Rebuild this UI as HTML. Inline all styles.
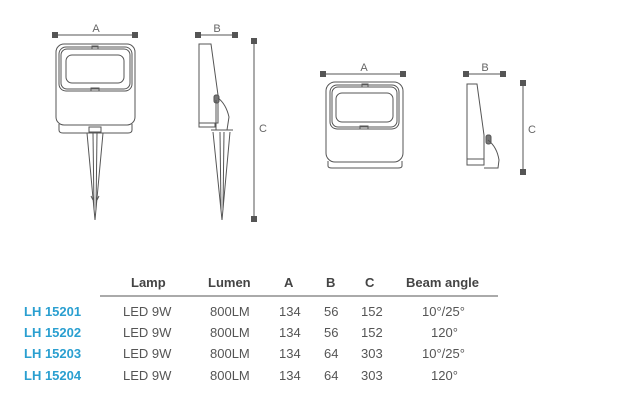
<!DOCTYPE html>
<html><head><meta charset="utf-8"><style>
html,body{margin:0;padding:0;background:#fff;}
body{width:624px;height:411px;overflow:hidden;position:relative;font-family:"Liberation Sans",sans-serif;}
svg{position:absolute;left:0;top:0;}
</style></head><body>
<svg width="624" height="411" viewBox="0 0 624 411" xmlns="http://www.w3.org/2000/svg">
<g stroke="#555" fill="none" stroke-width="1">
<!-- Front 1 dims -->
<line x1="56" y1="35" x2="134" y2="35"/>
<!-- Front 1 body -->
<rect x="56" y="44" width="79" height="81" rx="8"/>
<rect x="59" y="47" width="73" height="44" rx="7"/>
<rect x="61" y="49" width="69" height="40" rx="6"/>
<rect x="66" y="55" width="58" height="28" rx="6"/>
<rect x="92" y="46" width="6" height="3"/>
<rect x="91" y="88" width="8" height="3"/>
<path d="M59 124 L59 130 Q59 133 63 133 L128 133 Q132 133 132 130 L132 124"/>
<rect x="89" y="127" width="12" height="5"/>
<!-- spike 1 -->
<line x1="85" y1="133" x2="105" y2="133"/>
<path d="M87 133 L95 220 L103 133"/>
<line x1="93" y1="133" x2="94" y2="210"/>
<line x1="97" y1="133" x2="96" y2="210"/>
<line x1="91" y1="196" x2="93" y2="200"/><line x1="99" y1="196" x2="97" y2="200"/>
<!-- Side 1 -->
<line x1="198" y1="35" x2="235" y2="35"/>
<path d="M199 44 L211 44 L218 95 L218 123 L199 123 Z"/>
<path d="M199 123 L199 127 L215 127 L215 123"/>
<rect x="214" y="95" width="5" height="8" rx="2" fill="#777"/>
<path d="M218 98 Q226 104 229 117 L227 130 L216 130 L216 100"/>
<line x1="211" y1="130" x2="233" y2="130"/>
<path d="M213 132 L222 220 L230 132"/>
<line x1="220" y1="132" x2="221" y2="210"/>
<line x1="224" y1="132" x2="223" y2="210"/>
<line x1="254" y1="41" x2="254" y2="219"/>
<!-- Front 2 -->
<line x1="323" y1="74" x2="403" y2="74"/>
<rect x="326" y="82" width="77" height="80" rx="9"/>
<rect x="330" y="85" width="69" height="44" rx="7"/>
<rect x="332" y="87" width="65" height="40" rx="6"/>
<rect x="336" y="93" width="57" height="29" rx="6"/>
<rect x="362" y="84" width="6" height="3"/>
<rect x="360" y="126" width="8" height="3"/>
<path d="M328 161 L328 166 Q328 168 332 168 L398 168 Q402 168 402 166 L402 161"/>
<!-- Side 2 -->
<line x1="466" y1="74" x2="503" y2="74"/>
<path d="M467 84 L477 84 L484 135 L484 165 L467 165 Z"/>
<line x1="467" y1="159" x2="484" y2="159"/>
<rect x="486" y="135" width="5" height="9" rx="2" fill="#777"/>
<path d="M488 140 Q497 147 499 160 L498 168 L484 168"/>
<line x1="523" y1="83" x2="523" y2="172"/>
</g>
<g fill="#555">
<rect x="52" y="32" width="6" height="6"/><rect x="132" y="32" width="6" height="6"/>
<rect x="195" y="32" width="6" height="6"/><rect x="232" y="32" width="6" height="6"/>
<rect x="251" y="38" width="6" height="6"/><rect x="251" y="216" width="6" height="6"/>
<rect x="320" y="71" width="6" height="6"/><rect x="400" y="71" width="6" height="6"/>
<rect x="463" y="71" width="6" height="6"/><rect x="500" y="71" width="6" height="6"/>
<rect x="520" y="80" width="6" height="6"/><rect x="520" y="169" width="6" height="6"/>
</g>
<g fill="#666" font-size="11" font-family="Liberation Sans,sans-serif" text-anchor="middle">
<text x="96" y="32">A</text><text x="217" y="32">B</text><text x="263" y="132">C</text>
<text x="364" y="71">A</text><text x="485" y="71">B</text><text x="532" y="133">C</text>
</g>
<line x1="100" y1="296" x2="498" y2="296" stroke="#555" stroke-width="1"/>
<g font-size="13" font-weight="bold" fill="#444" font-family="Liberation Sans,sans-serif">
<text x="131" y="287">Lamp</text><text x="208" y="287">Lumen</text><text x="284" y="287">A</text>
<text x="326" y="287">B</text><text x="365" y="287">C</text><text x="406" y="287">Beam angle</text>
</g>
<g font-size="13" font-weight="bold" fill="#2a9fd0" font-family="Liberation Sans,sans-serif">
<text x="24" y="316">LH 15201</text><text x="24" y="337">LH 15202</text>
<text x="24" y="358">LH 15203</text><text x="24" y="380">LH 15204</text>
</g>
<g font-size="13" fill="#555" font-family="Liberation Sans,sans-serif">
<text x="123" y="316">LED  9W</text><text x="210" y="316">800LM</text><text x="279" y="316">134</text><text x="324" y="316">56</text><text x="361" y="316">152</text><text x="422" y="316">10°/25°</text>
<text x="123" y="337">LED  9W</text><text x="210" y="337">800LM</text><text x="279" y="337">134</text><text x="324" y="337">56</text><text x="361" y="337">152</text><text x="431" y="337">120°</text>
<text x="123" y="358">LED  9W</text><text x="210" y="358">800LM</text><text x="279" y="358">134</text><text x="324" y="358">64</text><text x="361" y="358">303</text><text x="422" y="358">10°/25°</text>
<text x="123" y="380">LED  9W</text><text x="210" y="380">800LM</text><text x="279" y="380">134</text><text x="324" y="380">64</text><text x="361" y="380">303</text><text x="431" y="380">120°</text>
</g>
</svg>
</body></html>
